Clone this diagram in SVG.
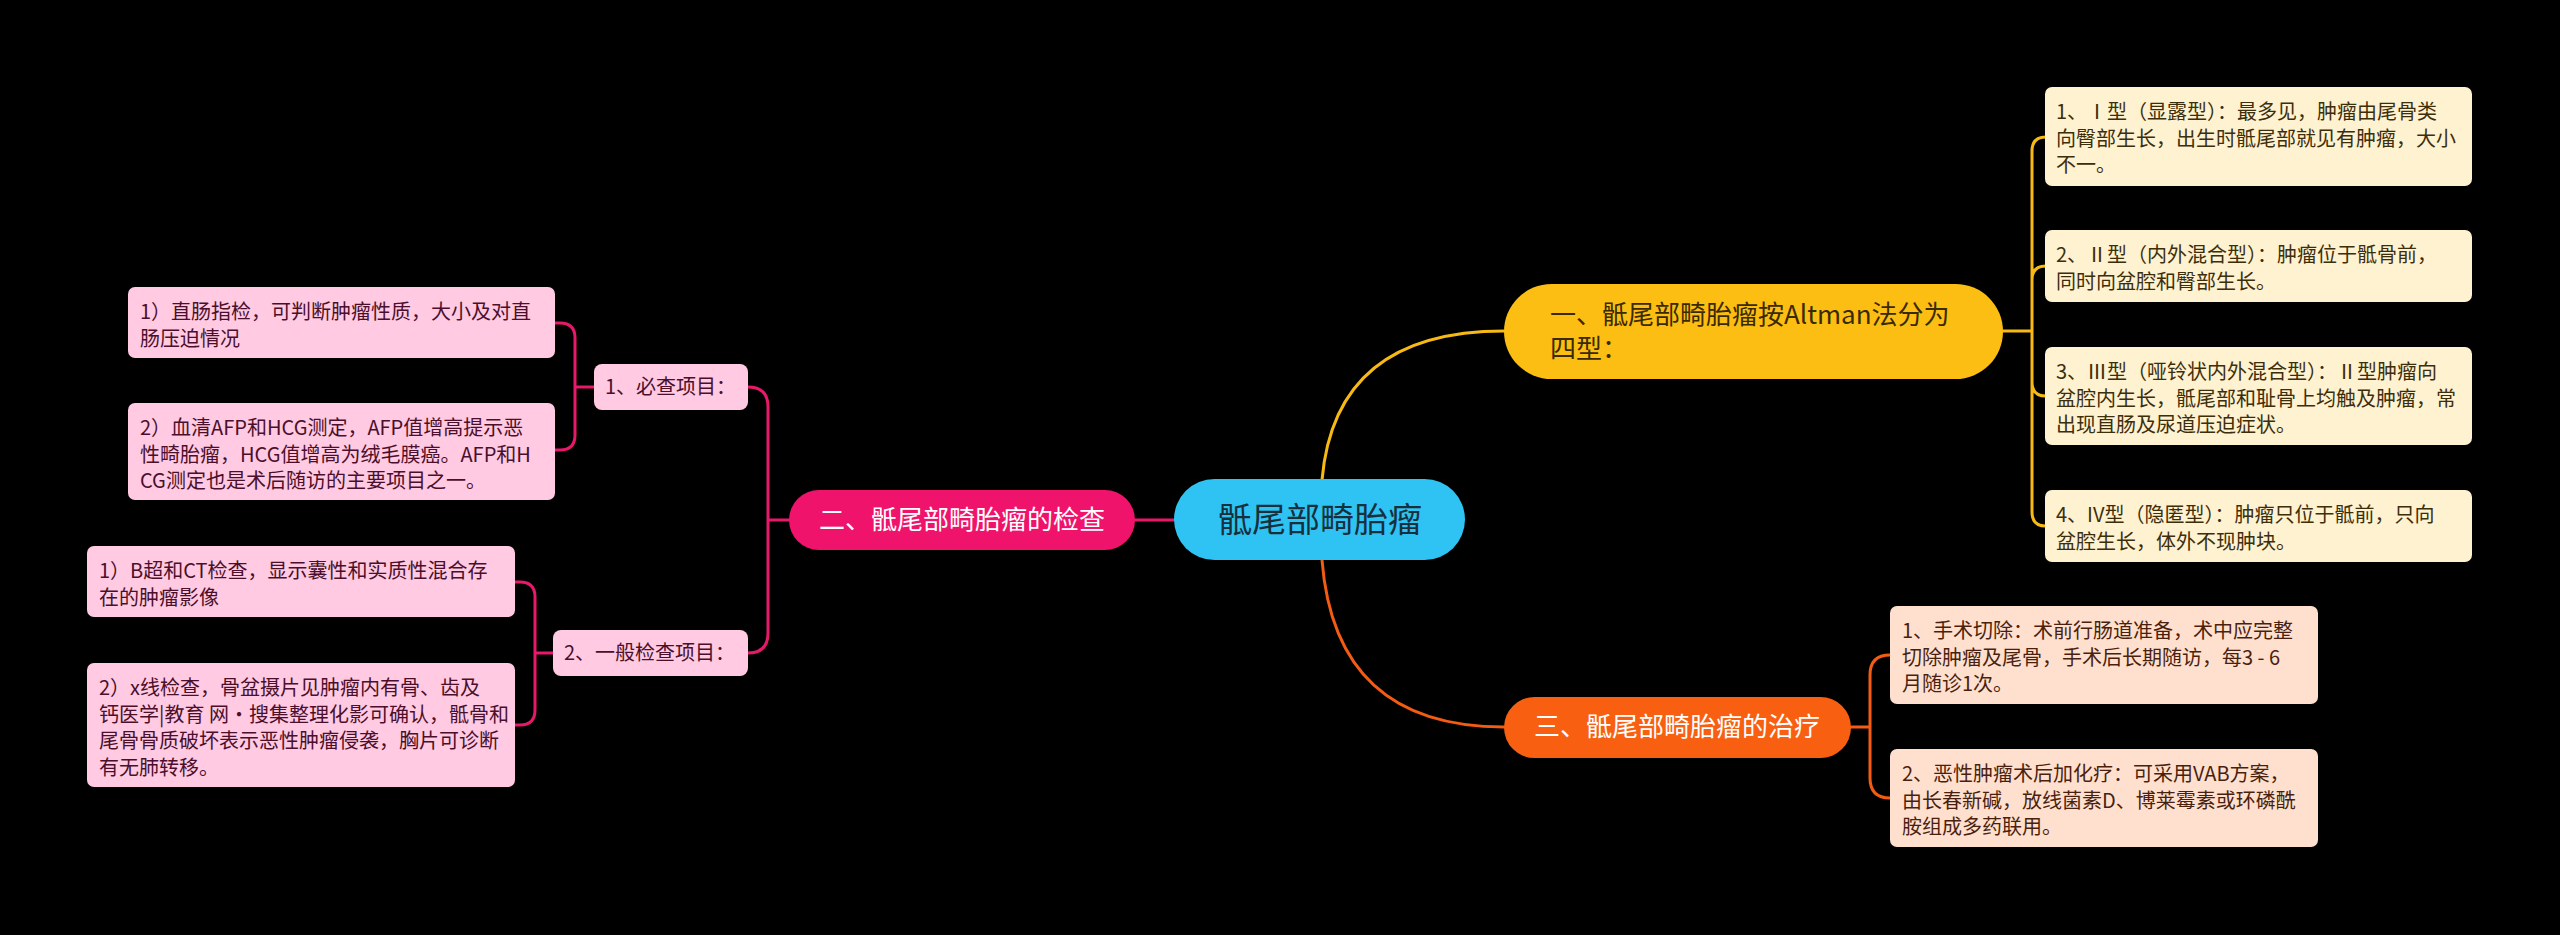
<svg xmlns="http://www.w3.org/2000/svg" width="2560" height="935" viewBox="0 0 2560 935">
<style>
text{font-family:"Noto Sans CJK SC","Noto Sans",sans-serif}
.ln{fill:none;stroke-width:3;stroke-linecap:round}
.y{stroke:#F7BA14}.o{stroke:#F45C14}.p{stroke:#E8186B}
.lf{font-size:20px}
.ly{fill:#FEF2D1}.lp{fill:#FFCAE2}.lo{fill:#FFE0CE}
.ty{fill:#3D2E0B}.tp{fill:#4B0F2B}.to{fill:#4A1F0E}
.br{font-size:26px}
</style>
<rect width="2560" height="935" fill="#000"/>
<g id="connectors">
<path class="ln y" d="M1322,480 Q1335,331 1504,331"/>
<path class="ln o" d="M1322,560 Q1335,727 1504,727"/>
<path class="ln p" d="M1174,520 H1135"/>
<path class="ln y" d="M2003,331 H2032 M2032,331 V151 Q2032,137 2046,137 M2032,331 V280 Q2032,266 2046,266 M2032,331 V382 Q2032,396 2046,396 M2032,331 V512 Q2032,526 2046,526"/>
<path class="ln o" d="M1851,727 H1870 M1870,727 V675 Q1870,655 1890,655 M1870,727 V778 Q1870,798 1890,798"/>
<path class="ln p" d="M789,520 H768 M768,520 V407 Q768,387 748,387 M768,520 V633 Q768,653 748,653"/>
<path class="ln p" d="M594,387 H575 M575,387 V338 Q575,323 560,323 H555 M575,387 V435 Q575,450 560,450 H555"/>
<path class="ln p" d="M553,653 H535 M535,653 V597 Q535,582 520,582 H515 M535,653 V710 Q535,725 520,725 H515"/>
</g>
<g id="root">
<rect x="1174" y="479" width="291" height="81" rx="40.5" fill="#2EC3F2"/>
<text x="1320" y="532" font-size="34" text-anchor="middle" fill="#17303D">骶尾部畸胎瘤</text>
</g>
<g id="branch1">
<rect x="1504" y="284" width="499" height="95" rx="47.5" fill="#FCBE12"/>
<text class="br" fill="#3A2A00"><tspan x="1550" y="324">一、骶尾部畸胎瘤按Altman法分为</tspan><tspan x="1550" y="358">四型：</tspan></text>
</g>
<g id="branch2">
<rect x="789" y="490" width="346" height="60" rx="30" fill="#EF136C"/>
<text class="br" x="962" y="529" text-anchor="middle" fill="#fff">二、骶尾部畸胎瘤的检查</text>
</g>
<g id="branch3">
<rect x="1504" y="697" width="347" height="61" rx="30.5" fill="#F85F11"/>
<text class="br" x="1677" y="736" text-anchor="middle" fill="#fff">三、骶尾部畸胎瘤的治疗</text>
</g>
<g id="leaf-y1">
<rect class="ly" x="2045" y="87" width="427" height="99" rx="7"/>
<text class="lf ty"><tspan x="2056" y="119">1、Ⅰ型（显露型）：最多见，肿瘤由尾骨类</tspan><tspan x="2056" y="145.5">向臀部生长，出生时骶尾部就见有肿瘤，大小</tspan><tspan x="2056" y="172">不一。</tspan></text>
</g>
<g id="leaf-y2">
<rect class="ly" x="2045" y="230" width="427" height="72" rx="7"/>
<text class="lf ty"><tspan x="2056" y="262">2、Ⅱ型（内外混合型）：肿瘤位于骶骨前，</tspan><tspan x="2056" y="288.5">同时向盆腔和臀部生长。</tspan></text>
</g>
<g id="leaf-y3">
<rect class="ly" x="2045" y="347" width="427" height="98" rx="7"/>
<text class="lf ty"><tspan x="2056" y="379">3、Ⅲ型（哑铃状内外混合型）：Ⅱ型肿瘤向</tspan><tspan x="2056" y="405.5">盆腔内生长，骶尾部和耻骨上均触及肿瘤，常</tspan><tspan x="2056" y="432">出现直肠及尿道压迫症状。</tspan></text>
</g>
<g id="leaf-y4">
<rect class="ly" x="2045" y="490" width="427" height="72" rx="7"/>
<text class="lf ty"><tspan x="2056" y="522">4、IV型（隐匿型）：肿瘤只位于骶前，只向</tspan><tspan x="2056" y="548.5">盆腔生长，体外不现肿块。</tspan></text>
</g>
<g id="sub1">
<rect class="lp" x="594" y="364" width="154" height="46" rx="8"/>
<text class="lf tp" x="605" y="394">1、必查项目：</text>
</g>
<g id="sub2">
<rect class="lp" x="553" y="630" width="195" height="46" rx="8"/>
<text class="lf tp" x="564" y="660">2、一般检查项目：</text>
</g>
<g id="leaf-p1">
<rect class="lp" x="128" y="287" width="427" height="71" rx="7"/>
<text class="lf tp"><tspan x="140" y="319">1）直肠指检，可判断肿瘤性质，大小及对直</tspan><tspan x="140" y="345.5">肠压迫情况</tspan></text>
</g>
<g id="leaf-p2">
<rect class="lp" x="128" y="403" width="427" height="97" rx="7"/>
<text class="lf tp"><tspan x="140" y="435">2）血清AFP和HCG测定，AFP值增高提示恶</tspan><tspan x="140" y="461.5">性畸胎瘤，HCG值增高为绒毛膜癌。AFP和H</tspan><tspan x="140" y="488">CG测定也是术后随访的主要项目之一。</tspan></text>
</g>
<g id="leaf-p3">
<rect class="lp" x="87" y="546" width="428" height="71" rx="7"/>
<text class="lf tp"><tspan x="99" y="578">1）B超和CT检查，显示囊性和实质性混合存</tspan><tspan x="99" y="604.5">在的肿瘤影像</tspan></text>
</g>
<g id="leaf-p4">
<rect class="lp" x="87" y="663" width="428" height="124" rx="7"/>
<text class="lf tp"><tspan x="99" y="695">2）x线检查，骨盆摄片见肿瘤内有骨、齿及</tspan><tspan x="99" y="721.5">钙医学|教育 网·搜集整理化影可确认，骶骨和</tspan><tspan x="99" y="748">尾骨骨质破坏表示恶性肿瘤侵袭，胸片可诊断</tspan><tspan x="99" y="774.5">有无肺转移。</tspan></text>
</g>
<g id="leaf-o1">
<rect class="lo" x="1890" y="606" width="428" height="98" rx="7"/>
<text class="lf to"><tspan x="1902" y="638">1、手术切除：术前行肠道准备，术中应完整</tspan><tspan x="1902" y="664.5">切除肿瘤及尾骨，手术后长期随访，每3 - 6</tspan><tspan x="1902" y="691">月随诊1次。</tspan></text>
</g>
<g id="leaf-o2">
<rect class="lo" x="1890" y="749" width="428" height="98" rx="7"/>
<text class="lf to"><tspan x="1902" y="781">2、恶性肿瘤术后加化疗：可采用VAB方案，</tspan><tspan x="1902" y="807.5">由长春新碱，放线菌素D、博莱霉素或环磷酰</tspan><tspan x="1902" y="834">胺组成多药联用。</tspan></text>
</g>
</svg>
